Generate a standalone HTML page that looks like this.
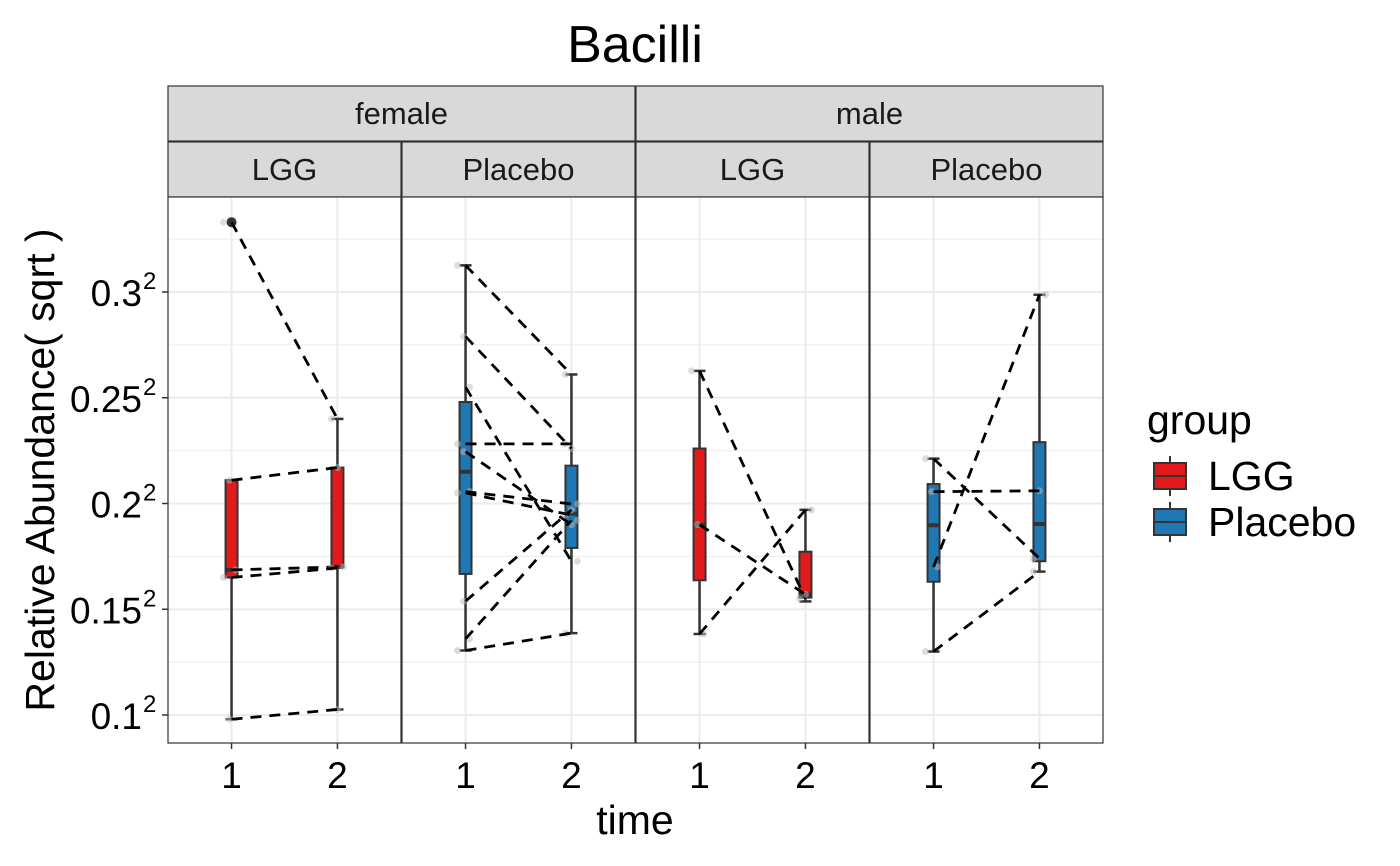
<!DOCTYPE html>
<html><head><meta charset="utf-8"><style>
body{margin:0;background:#fff;}
svg{display:block;font-family:"Liberation Sans",Arial,sans-serif;}
</style></head><body>
<svg id="chart" width="1400" height="866"></svg>
<script>
// ---- data (sqrt-scale values) ----
const panelSex = ["female","female","male","male"];
const panelGroup = ["LGG","Placebo","LGG","Placebo"];
const yTicks = [0.1,0.15,0.2,0.25,0.3];
const yTickLabels = ["0.1","0.15","0.2","0.25","0.3"];
const timeLabels = ["1","2"];
// box stats per panel per time: [lowWhisker, q1, median, q3, highWhisker]
const boxT1 = [[0.098,0.165,0.1686,0.211,0.211],[0.1305,0.1667,0.215,0.248,0.3126],[0.1383,0.1637,0.190,0.226,0.2627],[0.130,0.163,0.1897,0.2092,0.2212]];
const boxT2 = [[0.1026,0.170,0.170,0.217,0.240],[0.1387,0.179,0.1952,0.2179,0.261],[0.1537,0.1555,0.157,0.1772,0.197],[0.1678,0.1727,0.1903,0.229,0.2987]];
const outliers = [[0.333],[],[],[]];
// paired subject values: time1 -> time2
const pairsT1 = [[0.333,0.211,0.1686,0.165,0.098],[0.3126,0.279,0.255,0.2282,0.2245,0.2056,0.205,0.1538,0.136,0.1305],[0.2627,0.190,0.1383],[0.2212,0.2056,0.170,0.130]];
const pairsT2 = [[0.240,0.217,0.170,0.1695,0.1026],[0.261,0.226,0.1727,0.2282,0.190,0.1998,0.1945,0.197,0.192,0.1387],[0.155,0.157,0.197],[0.174,0.206,0.2987,0.1678]];

const NS="http://www.w3.org/2000/svg";
const svg=document.getElementById('chart');
function mk(t,a,p){const e=document.createElementNS(NS,t);for(const k in a)e.setAttribute(k,a[k]);(p||svg).appendChild(e);return e;}
const panelX=[168,402,636,870], PW=233, TOP=197, BOT=743;
const yS=v=>715-(v-0.1)*2115;
const xS=(p,t)=>panelX[p]+PW*((t+1)-0.4)/2.2;
const colors={LGG:"#E31A1C",Placebo:"#1F78B4"};

let t=mk('text',{x:635,y:62,'text-anchor':'middle','font-size':52,fill:'#000'});t.textContent="Bacilli";


const sexes=["female","male"];
sexes.forEach((s,i)=>{
  const r=mk('rect',{x:168+i*468,y:86,width:467,height:55,fill:'#D9D9D9',stroke:'#333','stroke-width':1.2});
  
  const tx=mk('text',{x:168+i*468+233.5,y:124,'text-anchor':'middle','font-size':31,fill:'#1a1a1a'});tx.textContent=s;
  
});
for(let p=0;p<4;p++){
  const x0=panelX[p];
  const r=mk('rect',{x:x0,y:142,width:PW,height:55,fill:'#D9D9D9',stroke:'#333','stroke-width':1.2});
  
  const tx=mk('text',{x:x0+PW/2,y:180,'text-anchor':'middle','font-size':31,fill:'#1a1a1a'});tx.textContent=panelGroup[p];
  
}
for(let p=0;p<4;p++){
  const x0=panelX[p];
  const g=mk('g',{});
  
  mk('rect',{x:x0,y:TOP,width:PW,height:BOT-TOP,fill:'#fff'},g);
  for(let i=0;i<yTicks.length+1;i++){
    const v=0.075+i*0.05;const y=yS(v);
    if(y>TOP&&y<BOT)mk('line',{x1:x0,x2:x0+PW,y1:y,y2:y,stroke:'#EBEBEB','stroke-width':1},g);
  }
  yTicks.forEach(v=>mk('line',{x1:x0,x2:x0+PW,y1:yS(v),y2:yS(v),stroke:'#EBEBEB','stroke-width':2},g));
  [0,1].forEach(tt=>mk('line',{x1:xS(p,tt),x2:xS(p,tt),y1:TOP,y2:BOT,stroke:'#EBEBEB','stroke-width':2},g));
  const col=colors[panelGroup[p]];
  [boxT1[p],boxT2[p]].forEach((b,tt)=>{
    const cx=xS(p,tt);
    const bg=mk('g',{},g);
    
    mk('line',{x1:cx,x2:cx,y1:yS(b[0]),y2:yS(b[4]),stroke:'#333','stroke-width':2.5},bg);
    mk('line',{x1:cx-6,x2:cx+6,y1:yS(b[0]),y2:yS(b[0]),stroke:'#333','stroke-width':2.5},bg);
    mk('line',{x1:cx-6,x2:cx+6,y1:yS(b[4]),y2:yS(b[4]),stroke:'#333','stroke-width':2.5},bg);
    mk('rect',{x:cx-6,y:yS(b[3]),width:12,height:Math.max(1,yS(b[1])-yS(b[3])),fill:col,stroke:'#333','stroke-width':2},bg);
    mk('line',{x1:cx-6,x2:cx+6,y1:yS(b[2]),y2:yS(b[2]),stroke:'#333','stroke-width':4},bg);
  });
  outliers[p].forEach(v=>{const c=mk('circle',{cx:xS(p,0),cy:yS(v),r:5,fill:'#333'},g);
    });
  pairsT1[p].forEach((v,i)=>{
    const v2=pairsT2[p][i];
    mk('circle',{cx:xS(p,0)-8+(i%3)*6,cy:yS(v),r:3.5,fill:'#bbb','fill-opacity':0.5},g);
    mk('circle',{cx:xS(p,1)-6+(i%3)*6,cy:yS(v2),r:3.5,fill:'#bbb','fill-opacity':0.5},g);
    const l=mk('line',{x1:xS(p,0),y1:yS(v),x2:xS(p,1),y2:yS(v2),stroke:'#000','stroke-width':2.8,'stroke-dasharray':'11,8'},g);
    
  });
  mk('rect',{x:x0,y:TOP,width:PW,height:BOT-TOP,fill:'none',stroke:'#333','stroke-width':1.2},g);
  [0,1].forEach(tt=>{
    mk('line',{x1:xS(p,tt),x2:xS(p,tt),y1:BOT,y2:BOT+6,stroke:'#333','stroke-width':1.5});
    const tx=mk('text',{x:xS(p,tt),y:788,'text-anchor':'middle','font-size':37,fill:'#000'});tx.textContent=timeLabels[tt];
    
  });
}
yTicks.forEach((v,i)=>{
  mk('line',{x1:162,x2:168,y1:yS(v),y2:yS(v),stroke:'#333','stroke-width':1.5});
  const tx=mk('text',{x:142,y:yS(v)+14,'text-anchor':'end','font-size':37,fill:'#000'});
  tx.textContent=yTickLabels[i];
  
  const sp=mk('text',{x:143,y:yS(v)-3,'font-size':24,fill:'#000'});sp.textContent="2";
});
t=mk('text',{x:635,y:834,'text-anchor':'middle','font-size':41,fill:'#000'});t.textContent="time";

t=mk('text',{x:0,y:0,'text-anchor':'middle','font-size':41,fill:'#000',transform:'translate(54,470) rotate(-90)'});t.textContent="Relative Abundance( sqrt )";

t=mk('text',{x:1147,y:434,'font-size':41,fill:'#000'});t.textContent="group";

["LGG","Placebo"].forEach((k,i)=>{
  const g=mk('g',{});
  
  const cy=476+i*46;
  mk('line',{x1:1170,x2:1170,y1:cy-20,y2:cy+20,stroke:'#333','stroke-width':2},g);
  mk('rect',{x:1154,y:cy-13,width:32,height:26,fill:colors[k],stroke:'#333','stroke-width':2},g);
  mk('line',{x1:1154,x2:1186,y1:cy,y2:cy,stroke:'#333','stroke-width':2},g);
  const tx=mk('text',{x:1208,y:cy+14,'font-size':41,fill:'#000'},g);tx.textContent=k;
});
</script>
</body></html>
